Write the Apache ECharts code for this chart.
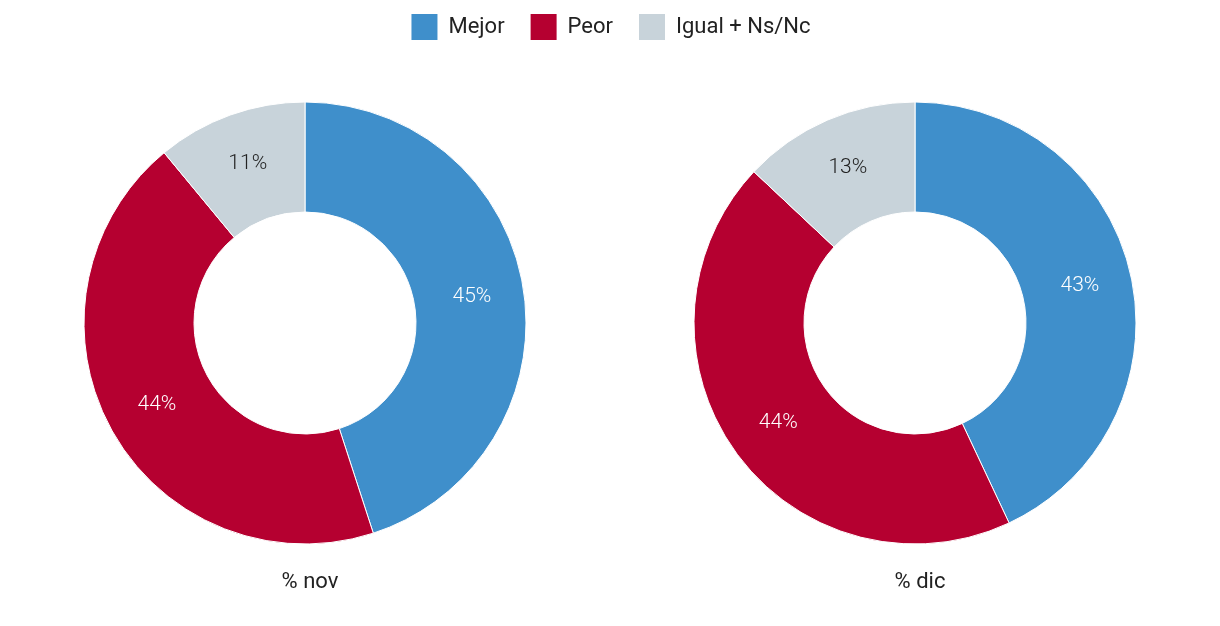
<!DOCTYPE html>
<html><head><meta charset="utf-8">
<script src="https://cdn.jsdelivr.net/npm/echarts@6/dist/echarts.min.js"></script>
<style>html,body{margin:0;padding:0;background:#fff}#c{width:1220px;height:626px}</style>
</head><body><div id="c"></div>
<script>
const categories = ["Mejor", "Peor", "Igual + Ns/Nc"];
const novValues = [45, 44, 11];
const dicValues = [43, 44, 13];
const titles = ["% nov", "% dic"];
const colors = ["#3f8fcb", "#b50030", "#c8d3da"];
const labelColors = ["#ffffff", "#ffffff", "#222222"];
const FONT = "Roboto";

function mk(vals){ return vals.map((v,i)=>({name:categories[i], value:v, label:{color:labelColors[i]}})); }
function pie(vals, cx){
  return {type:'pie', radius:[111,221], center:[cx,323], startAngle:90, clockwise:true,
    avoidLabelOverlap:false,
    itemStyle:{borderColor:'#fff', borderWidth:1},
    label:{show:true, position:'inside', formatter:'{c}%', fontFamily:FONT, fontSize:21, fontWeight:300},
    labelLine:{show:false}, emphasis:{disabled:true}, animation:false,
    data:mk(vals)};
}
const chart = echarts.init(document.getElementById('c'), null, {renderer:'canvas'});
chart.setOption({
  color: colors,
  animation:false,
  legend:{top:7, left:'center', itemWidth:28, itemHeight:28, itemGap:24, icon:'rect',
    textStyle:{fontFamily:FONT, fontSize:22, color:'#222', padding:[0,0,0,5]}, data:categories},
  title:[
    {text:titles[0], left:305, top:566, textAlign:'center', textStyle:{fontFamily:FONT, fontSize:22, fontWeight:'normal', color:'#222'}},
    {text:titles[1], left:915, top:566, textAlign:'center', textStyle:{fontFamily:FONT, fontSize:22, fontWeight:'normal', color:'#222'}}
  ],
  series:[pie(novValues,305), pie(dicValues,915)]
});
</script></body></html>
